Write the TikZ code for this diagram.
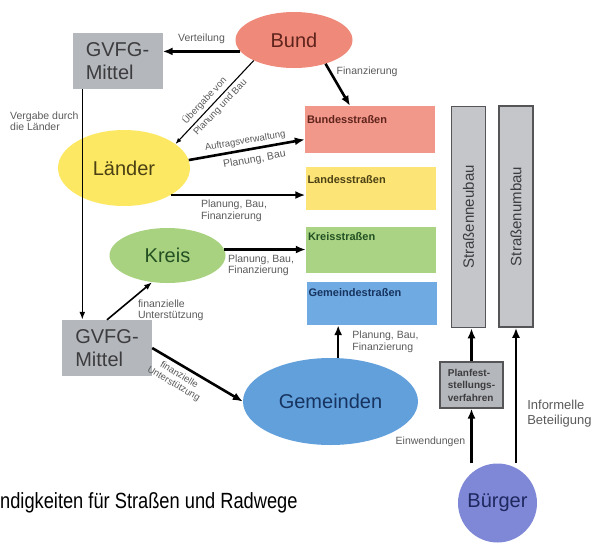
\documentclass[tikz,border=0pt]{standalone}
\usepackage{fontspec}
\setmainfont{Liberation Sans}
\usetikzlibrary{arrows.meta,positioning,shapes.geometric}

\definecolor{bundfill}{RGB}{239,138,122}
\definecolor{bundtext}{RGB}{95,35,28}
\definecolor{bstrfill}{RGB}{242,152,138}
\definecolor{laenderfill}{RGB}{252,232,98}
\definecolor{laendertext}{RGB}{75,65,20}
\definecolor{lstrfill}{RGB}{253,228,118}
\definecolor{kreisfill}{RGB}{168,210,128}
\definecolor{kreistext}{RGB}{35,80,35}
\definecolor{kstrfill}{RGB}{170,212,132}
\definecolor{gemfill}{RGB}{98,160,220}
\definecolor{gemtext}{RGB}{22,52,95}
\definecolor{gstrfill}{RGB}{112,170,226}
\definecolor{buergerfill}{RGB}{126,136,214}
\definecolor{buergertext}{RGB}{30,40,95}
\definecolor{gvfgfill}{RGB}{180,183,187}
\definecolor{gvfgtext}{RGB}{60,60,62}
\definecolor{barfill}{RGB}{196,198,202}
\definecolor{bardraw}{RGB}{85,85,88}
\definecolor{lblgray}{RGB}{90,90,90}

\begin{document}
\begin{tikzpicture}[x=1pt,y=-1pt,
    big/.style={font=\fontsize{20}{23}\selectfont},
    lbl/.style={font=\fontsize{10.5}{11.5}\selectfont, text=lblgray, inner sep=1pt},
    sml/.style={lbl, font=\fontsize{9.5}{10.5}\selectfont},
    boxlbl/.style={font=\bfseries\fontsize{11}{12}\selectfont, anchor=west, inner sep=1pt},
    strbox/.style={minimum width=130pt, inner sep=0pt},
    gvfg/.style={fill=gvfgfill, minimum width=90pt, minimum height=56pt, big, text=gvfgtext, align=left},
    bar/.style={draw=bardraw, line width=1.5pt, fill=barfill, minimum width=34pt, minimum height=221pt},
    vtext/.style={rotate=90, font=\fontsize{15}{17}\selectfont, text=gvfgtext},
    arr/.style={line width=2.6pt, -{Latex[length=10pt,width=8pt]}},
    midarr/.style={line width=1.6pt, -{Latex[length=8pt,width=6pt]}},
    thinarr/.style={line width=1.1pt, -{Latex[length=6pt,width=4.5pt]}}]
  \useasboundingbox (0,0) rectangle (598,542);

  % Akteure
  \node[ellipse, fill=bundfill, minimum width=117pt, minimum height=56pt, big, text=bundtext] (bund) at (294,40) {Bund};
  \node[ellipse, fill=laenderfill, minimum width=132pt, minimum height=76pt, big, text=laendertext] (laender) at (124,168) {Länder};
  \node[ellipse, fill=kreisfill, minimum width=116pt, minimum height=55pt, big, text=kreistext] (kreis) at (167.5,255.5) {Kreis};
  \node[ellipse, fill=gemfill, minimum width=175pt, minimum height=87pt, big, text=gemtext] (gemeinden) at (330.5,401.5) {Gemeinden};
  \node[circle, fill=buergerfill, minimum size=79pt, inner sep=0pt, big, text=buergertext] (buerger) at (497.5,503) {Bürger};
  \node[gvfg] (gvfg1) at (117.5,61) {GVFG-\\Mittel};
  \node[gvfg] (gvfg2) at (107,348) {GVFG-\\Mittel};

  % Straßen
  \node[strbox, fill=bstrfill, minimum height=47pt] (bstr) at (370,129.5) {};
  \node[strbox, fill=lstrfill, minimum height=43pt] (lstr) at (370.5,188.5) {};
  \node[strbox, fill=kstrfill, minimum height=46pt] (kstr) at (371,250) {};
  \node[strbox, fill=gstrfill, minimum height=43pt] (gstr) at (371.5,303.5) {};
  \node[boxlbl, text=bundtext] (bstrlbl) at ([xshift=1pt,yshift=-14pt]bstr.north west) {Bundesstraßen};
  \node[boxlbl, text=laendertext] (lstrlbl) at ([xshift=1pt,yshift=-13pt]lstr.north west) {Landesstraßen};
  \node[boxlbl, text=kreistext] (kstrlbl) at ([xshift=1pt,yshift=-10pt]kstr.north west) {Kreisstraßen};
  \node[boxlbl, text=gemtext] (gstrlbl) at ([xshift=1pt,yshift=-11pt]gstr.north west) {Gemeindestraßen};

  \node[bar] (neubau) at (468.5,217) {};
  \node[bar] (umbau) at (516,216.5) {};
  \node[vtext] (neubautxt) at (neubau) {Straßenneubau};
  \node[vtext] (umbautxt) at (umbau) {Straßenumbau};
  \node[draw=bardraw, line width=1.2pt, fill=gvfgfill, minimum width=63pt, minimum height=46pt, inner sep=2pt,
        font=\bfseries\fontsize{10}{12.5}\selectfont, text=gvfgtext, align=left] (planfest) at (471.5,385) {Planfest-\\stellungs-\\verfahren};

  % Verbindungen
  \draw[arr] (bund.192) -- (bund.192 -| gvfg1.east) node[lbl, midway, above=5pt] {Verteilung};
  \draw[arr] (bund.-37) -- ([xshift=-20pt]bstr.north) node[lbl, pos=0.2, right=4pt] {Finanzierung};
  \draw[thinarr] (bund.207) -- (laender.25)
    node[sml, pos=0.55, sloped, above=2pt] {Übergabe von}
    node[sml, pos=0.5, sloped, below=2pt] {Planung und Bau};
  \draw[arr] (laender.7) -- ([yshift=-10pt]bstr.west)
    node[sml, pos=0.5, sloped, above=2pt] {Auftragsverwaltung}
    node[lbl, pos=0.55, sloped, below=4pt] {Planung, Bau};
  \draw[arr] (laender.-30) -- (laender.-30 -| lstr.west) node[lbl, pos=0.47, below=3pt, align=left] {Planung, Bau,\\Finanzierung};
  \draw[arr] (kreis.6) -- (kreis.6 -| kstr.west) node[lbl, pos=0.45, below=3pt, align=left] {Planung, Bau,\\Finanzierung};

  \coordinate (vtop) at ([xshift=10pt]gvfg1.south west);
  \draw[midarr] (vtop) -- (vtop |- gvfg2.north) node[lbl, pos=0.14, left=2pt, align=left] {Vergabe durch\\die Länder};
  \draw[midarr] (gvfg2.north) -- (kreis.240) node[lbl, pos=0.25, anchor=west, xshift=18pt, align=left] {finanzielle\\Unterstützung};
  \draw[arr] (gvfg2.east) -- (gemeinden.west) node[sml, pos=0.35, sloped, below=3pt, align=center] {finanzielle\\Unterstützung};
  \draw[arr] (gemeinden.80) -- (gemeinden.80 |- gstr.south) node[lbl, midway, right=12pt, align=left] {Planung, Bau,\\Finanzierung};

  \draw[arr] (planfest.north) -- (planfest.north |- neubau.south);
  \draw[arr] (planfest.south |- buerger.north) -- (planfest.south) node[lbl, pos=0.39, left=4pt] {Einwendungen};
  \draw[arr] (umbau.south |- buerger.north) -- (umbau.south)
    node[lbl, pos=0.37, right=9pt, align=left, font=\fontsize{13}{15}\selectfont] {Informelle\\Beteiligung};

  \node[anchor=base west, xscale=0.83, inner sep=0pt, font=\fontsize{22}{24}\selectfont] (caption) at (0,508) {ndigkeiten für Straßen und Radwege};
\end{tikzpicture}
\end{document}
